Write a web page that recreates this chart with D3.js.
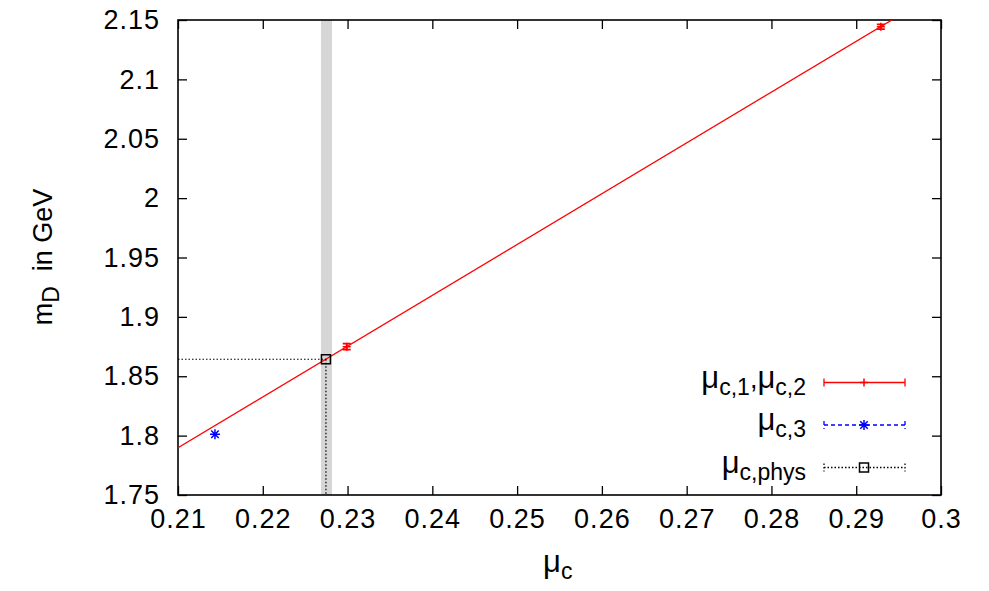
<!DOCTYPE html>
<html><head><meta charset="utf-8">
<script src="https://cdn.jsdelivr.net/npm/d3@7"></script>
<style>body{margin:0;background:#fff}svg text{font-family:"Liberation Sans",Arial,sans-serif;fill:#000}</style>
</head><body><svg id="c" width="989" height="591"></svg>
<script>
// ---- data ----
const xTicks = [0.21,0.22,0.23,0.24,0.25,0.26,0.27,0.28,0.29,0.3];
const xTickLabels = ["0.21","0.22","0.23","0.24","0.25","0.26","0.27","0.28","0.29","0.3"];
const yTicks = [1.75,1.8,1.85,1.9,1.95,2.0,2.05,2.1,2.15];
const yTickLabels = ["1.75","1.8","1.85","1.9","1.95","2","2.05","2.1","2.15"];
const muC12 = [0.2299, 0.2929];
const mD12 = [1.8749, 2.1444];
const mD12Err = [0.0025, 0.002];
const muC3 = [0.21436];
const mD3 = [1.8012];
const muPhys = [0.22745];
const mDPhys = [1.8643];
const muPhysBand = [0.22686, 0.22816];
const fitX = [0.21, 0.30];
const fitY = [1.7898, 2.1748];

// ---- layout ----
const L=178, T=20, R=941, B=495;
const svg = d3.select("#c");
const x = d3.scaleLinear().domain([0.21,0.3]).range([L,R]);
const y = d3.scaleLinear().domain([1.75,2.15]).range([B,T]);
const FS = 27;

svg.append("defs").append("clipPath").attr("id","clip")
  .append("rect").attr("x",L).attr("y",T).attr("width",R-L).attr("height",B-T);

// band
svg.append("rect").attr("x",x(muPhysBand[0])).attr("y",T)
  .attr("width",x(muPhysBand[1])-x(muPhysBand[0])).attr("height",B-T).attr("fill","#d6d6d6");

// axes (ticks inside, mirrored)
const ax = svg.append("g");
const tl = 9;
ax.append("g").attr("transform",`translate(0,${B})`)
  .call(d3.axisBottom(x).tickValues(xTicks).tickSize(-tl).tickFormat((d,i)=>xTickLabels[i]).tickPadding(14));
ax.append("g").attr("transform",`translate(0,${T})`)
  .call(d3.axisTop(x).tickValues(xTicks).tickSize(-tl).tickFormat(""));
ax.append("g").attr("transform",`translate(${L},0)`)
  .call(d3.axisLeft(y).tickValues(yTicks).tickSize(-tl).tickFormat((d,i)=>yTickLabels[i]).tickPadding(18));
ax.append("g").attr("transform",`translate(${R},0)`)
  .call(d3.axisRight(y).tickValues(yTicks).tickSize(-tl).tickFormat(""));
ax.selectAll(".domain").remove();
ax.selectAll("line").attr("stroke","#000").attr("stroke-width",1.3);
ax.selectAll("text").attr("font-size",FS).attr("letter-spacing",1).attr("font-family","Liberation Sans, Arial, sans-serif");
svg.append("rect").attr("x",L).attr("y",T).attr("width",R-L).attr("height",B-T)
  .attr("fill","none").attr("stroke","#000").attr("stroke-width",1.6);

const g = svg.append("g").attr("clip-path","url(#clip)");

// fit line
g.append("line").attr("x1",x(fitX[0])).attr("y1",y(fitY[0])).attr("x2",x(fitX[1])).attr("y2",y(fitY[1]))
  .attr("stroke","#ff0000").attr("stroke-width",1.3);

// dotted lines for phys point
g.append("line").attr("x1",L).attr("x2",x(muPhys[0])).attr("y1",y(mDPhys[0])).attr("y2",y(mDPhys[0]))
  .attr("stroke","#000").attr("stroke-width",1.2).attr("stroke-dasharray","1.5,2");
g.append("line").attr("x1",x(muPhys[0])).attr("x2",x(muPhys[0])).attr("y1",y(mDPhys[0])).attr("y2",B)
  .attr("stroke","#000").attr("stroke-width",1.2).attr("stroke-dasharray","1.5,2");

// markers
function plus(sel,cx,cy,s,col){
  sel.append("path").attr("d",`M${cx-s},${cy}H${cx+s}M${cx},${cy-s}V${cy+s}`).attr("stroke",col).attr("stroke-width",1.5).attr("fill","none");
}
function star(sel,cx,cy,s,col){
  const d=s*0.75;
  sel.append("path").attr("d",`M${cx-s},${cy}H${cx+s}M${cx},${cy-s}V${cy+s}M${cx-d},${cy-d}L${cx+d},${cy+d}M${cx-d},${cy+d}L${cx+d},${cy-d}`)
    .attr("stroke",col).attr("stroke-width",1.5).attr("fill","none");
}
function square(sel,cx,cy,s,col){
  sel.append("rect").attr("x",cx-s).attr("y",cy-s).attr("width",2*s).attr("height",2*s)
    .attr("fill","none").attr("stroke",col).attr("stroke-width",1.5);
}

// red errorbar points
muC12.forEach((m,i)=>{
  const cx=x(m), y1=y(mD12[i]+mD12Err[i]), y2=y(mD12[i]-mD12Err[i]);
  g.append("path").attr("d",`M${cx},${y1}V${y2}M${cx-4},${y1}H${cx+4}M${cx-4},${y2}H${cx+4}`)
    .attr("stroke","#ff0000").attr("stroke-width",1.8).attr("fill","none");
  plus(g,cx,y(mD12[i]),4,"#ff0000");
});
muC3.forEach((m,i)=>star(g,x(m),y(mD3[i]),5,"#0000ff"));
muPhys.forEach((m,i)=>square(g,x(m),y(mDPhys[i]),4.5,"#000"));

// axis titles
const MU = 31, SUB = 23;
svg.append("text").attr("x",543).attr("y",572).attr("font-size",MU)
  .html(`μ<tspan font-size="${SUB}" dy="7">c</tspan>`);
svg.append("text").attr("transform","translate(52,257) rotate(-90)").attr("text-anchor","middle").attr("font-size",FS)
  .html(`m<tspan font-size="${SUB}" dy="7">D</tspan><tspan dy="-7" font-size="${FS}" xml:space="preserve">  in GeV</tspan>`);

// legend
const lg = svg.append("g");
const lx1=824, lx2=905, lxm=864;
const rows=[382.5,425,467.5];
const legendLabels=[
  `<tspan font-size="${MU}">μ</tspan><tspan font-size="${SUB}" dy="7">c,1</tspan><tspan dy="-7">,</tspan><tspan font-size="${MU}">μ</tspan><tspan font-size="${SUB}" dy="7">c,2</tspan>`,
  `<tspan font-size="${MU}">μ</tspan><tspan font-size="${SUB}" dy="7">c,3</tspan>`,
  `<tspan font-size="${MU}">μ</tspan><tspan font-size="${SUB}" dy="7">c,phys</tspan>`
];
const legendColors=["#ff0000","#0000ff","#000"];
const legendDash=[null,"4,3","1.5,2"];
rows.forEach((ry,i)=>{
  lg.append("text").attr("x",806).attr("y",ry+5).attr("text-anchor","end").attr("font-size",FS).html(legendLabels[i]);
  const p = lg.append("path").attr("d",`M${lx1},${ry}H${lx2}M${lx1},${ry-4}V${ry+4}M${lx2},${ry-4}V${ry+4}`)
    .attr("stroke",legendColors[i]).attr("stroke-width",1.3).attr("fill","none");
  if(legendDash[i]) p.attr("stroke-dasharray",legendDash[i]);
});
plus(lg,lxm,rows[0],4,"#ff0000");
star(lg,lxm,rows[1],5,"#0000ff");
square(lg,lxm,rows[2],4.5,"#000");
</script></body></html>
